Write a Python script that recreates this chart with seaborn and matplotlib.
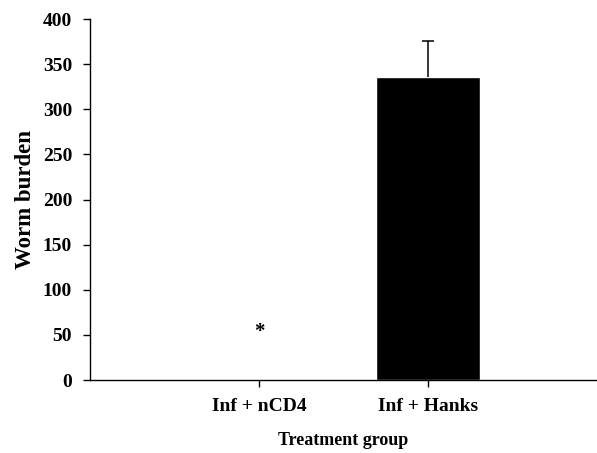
import pandas as pd
import seaborn as sns
import matplotlib.pyplot as plt
import numpy as np

groups = ['Inf + nCD4', 'Inf + Hanks']
worm_burden = [0, 336]
err_upper = [0, 40]
markers = ['*', '']
marker_y = [53, None]


def plot_burden():
    sns.set_style('white')
    plt.rcParams['font.family'] = ['Liberation Serif', 'DejaVu Serif']
    plt.rcParams['font.weight'] = 'bold'
    plt.rcParams['text.color'] = 'black'
    plt.rcParams['axes.labelcolor'] = 'black'

    df = pd.DataFrame({'Group': groups, 'Burden': worm_burden})

    fig = plt.figure(figsize=(5.97, 4.53), dpi=100)
    ax = fig.add_axes([0.151, 0.161, 0.849, 0.797])
    sns.barplot(data=df, x='Group', y='Burden', color='black', width=0.62,
                errorbar=None, ax=ax, saturation=1)
    # only the upper half of the error bar is shown
    idx = [i for i, e in enumerate(err_upper) if e > 0]
    _, caps, _ = ax.errorbar(idx, [worm_burden[i] for i in idx],
                             yerr=[[0] * len(idx), [err_upper[i] for i in idx]],
                             fmt='none', ecolor='black', elinewidth=1.1,
                             capsize=4.5, capthick=1.1)
    caps[0].set_visible(False)
    for i, (m, y) in enumerate(zip(markers, marker_y)):
        if m:
            ax.text(i, y, m, ha='center', va='center', fontsize=15, fontweight='bold')

    ax.set_xlim(-1, 2)
    ax.set_ylim(0, 400)
    ax.set_yticks(np.arange(0, 401, 50))
    sns.despine(ax=ax)
    for s in ['left', 'bottom']:
        ax.spines[s].set_color('black')
        ax.spines[s].set_linewidth(1)
    ax.tick_params(axis='both', direction='out', length=5, width=1, colors='black',
                   labelcolor='black', labelsize=14, bottom=True, left=True)
    ax.tick_params(axis='x', pad=8)
    ax.tick_params(axis='y', pad=8)
    ax.set_ylabel('Worm burden', fontsize=16.5, fontweight='bold', labelpad=5,
                  color='black')
    ax.set_xlabel('Treatment group', fontsize=13, fontweight='bold', labelpad=12,
                  color='black')
    for lab in ax.get_xticklabels() + ax.get_yticklabels():
        lab.set_fontweight('bold')
    fig.savefig('out.png', dpi=100)


if __name__ == '__main__':
    plot_burden()
